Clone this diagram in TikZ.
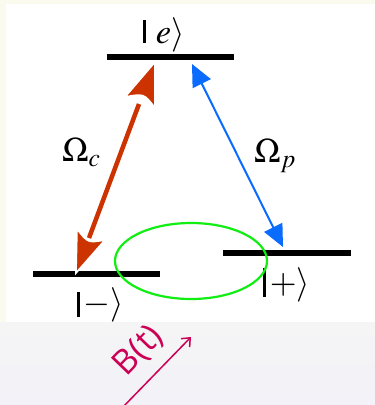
\documentclass[tikz,border=0pt]{standalone}
\usepackage{mathptmx}
\usepackage{graphicx}
\usepackage{fontspec}
\newfontfamily\bfont{Open Sans}
\usetikzlibrary{arrows.meta,shapes.geometric}
\definecolor{cream}{HTML}{FAFAEE}
\definecolor{grtop}{HTML}{F5F5F5}
\definecolor{grbot}{HTML}{F2F2F8}
\definecolor{redarr}{HTML}{CC3300}
\definecolor{bluearr}{HTML}{0A6BFF}
\definecolor{ellg}{HTML}{11EE11}
\definecolor{bcol}{HTML}{CC0055}
\newcommand{\kbar}[2]{\rule[-#1]{2.6pt}{#2}}
\newcommand{\lgmath}[1]{\scalebox{1.15}{$#1$}}
\tikzset{
  level/.style={line width=5.5pt, black},
  lbl/.style={inner sep=0pt, font=\fontsize{30}{32}\selectfont},
  redhead/.style={fill=redarr, draw=white, line width=1.6pt, line join=miter},
}
\begin{document}
\begin{tikzpicture}[x=1pt,y=-1pt]
\useasboundingbox (0,0) rectangle (375,405);
% backgrounds
\fill[cream] (0,0) rectangle (375,322);
\fill[white] (6,4) rectangle (375,322);
\shade[top color=grtop, bottom color=grbot] (0,322) rectangle (375,405);
% levels
\coordinate (e1) at (107,57); \coordinate (e2) at (234,57);
\coordinate (m1) at (33,274); \coordinate (m2) at (160,274);
\coordinate (p1) at (223,253); \coordinate (p2) at (351,253);
\draw[level] (e1) -- (e2);
\draw[level] (m1) -- (m2);
\draw[level] (p1) -- (p2);
% labels
\node[lbl, anchor=base west] (le) at (143,43) {\kbar{0pt}{23pt}\hspace{10pt}\lgmath{e\rangle}};
\node[lbl, anchor=base west] (lm) at (77,313) {\kbar{4pt}{25pt}\hspace{4pt}\lgmath{{-}\rangle}};
\node[lbl, anchor=base west] (lp) at (263,293) {\kbar{4pt}{29pt}\hspace{4pt}\lgmath{{+}\rangle}};
\node[lbl, anchor=base west] (oc) at (62,161) {\lgmath{\Omega_c}};
\node[lbl, anchor=base west] (op) at (254,162) {\lgmath{\Omega_p}};
% green ellipse
\node[draw=ellg, line width=2.2pt, ellipse, inner sep=0pt, minimum width=152pt, minimum height=76pt] (ell) at (191,261) {};
% red double arrow
\coordinate (rs1) at (89,238); \coordinate (rs2) at (139,104);
\draw[redarr, line width=4.5pt] (rs1) -- (rs2);
\coordinate (rt1) at (155,62); \coordinate (rt2) at (76,273);
\path[redhead] (rt1) -- (125,97) .. controls (144,93.5) .. (155,108) -- cycle;
\path[redhead] (rt2) -- (77,229) .. controls (87.8,242.9) .. (105,240) -- cycle;
% blue double arrow
\coordinate (bt1) at (192,64); \coordinate (bt2) at (283,247);
\draw[bluearr, line width=2pt, {Triangle[length=22pt,width=20pt]}-{Triangle[length=22pt,width=20pt]}] (bt1) -- (bt2);
% B(t)
\coordinate (b1) at (123,407); \coordinate (b2) at (191,337);
\draw[bcol, line width=1.5pt, -{Straight Barb[length=7pt,width=12pt]}] (b1) -- (b2);
\node[bcol, rotate=46, inner sep=0pt, font=\bfont\fontsize{34}{34}\selectfont] (bl) at (139,351) {B(t)};
\end{tikzpicture}
\end{document}
